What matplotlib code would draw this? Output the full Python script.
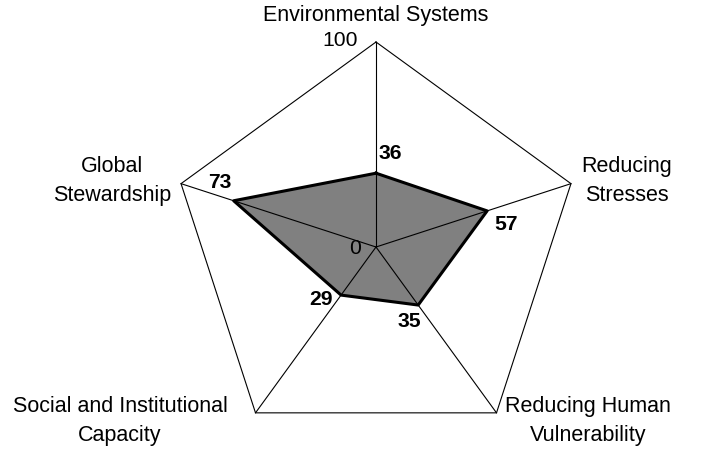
import numpy as np
import matplotlib
matplotlib.use('Agg')
import matplotlib.pyplot as plt

plt.rcParams['font.family'] = ['Liberation Sans', 'DejaVu Sans']

categories = ['Environmental Systems', 'Reducing\nStresses', 'Reducing Human\nVulnerability',
              'Social and Institutional\nCapacity', 'Global\nStewardship']
values = [36, 57, 35, 29, 73]
max_value = 100

# layout in pixel units (axes spans whole figure)
cx, cy, R = 376, 247, 205
n = len(categories)
angles = np.pi / 2 - 2 * np.pi * np.arange(n) / n

def to_xy(r, a):
    return cx + r * np.cos(a), cy - r * np.sin(a)

fig = plt.figure(figsize=(7.08, 4.49), dpi=100)
ax = fig.add_axes([0, 0, 1, 1])
ax.set_xlim(0, 708)
ax.set_ylim(449, 0)
ax.axis('off')

# data polygon
vx, vy = to_xy(R * np.array(values) / max_value, angles)
ax.fill(vx, vy, color='#808080', zorder=1)
ax.plot(np.append(vx, vx[0]), np.append(vy, vy[0]), color='black', lw=2.2, zorder=3)

# grid: outer pentagon + spokes
ox, oy = to_xy(R, angles)
ax.plot(np.append(ox, ox[0]), np.append(oy, oy[0]), color='black', lw=0.8, zorder=2)
for x, y in zip(ox, oy):
    ax.plot([cx, x], [cy, y], color='black', lw=0.8, zorder=2)

fs = 15.2

# axis scale labels
ax.text(ox[0] - 18, oy[0] - 1, str(max_value), ha='right', va='center', fontsize=fs)
ax.text(cx - 15, cy + 1, '0', ha='right', va='center', fontsize=fs)

# category labels
cat_pos = [(376, 16), (627, 181), (588, 421), (120, 421), (112, 181)]
for name, (x, y) in zip(categories, cat_pos):
    ax.text(x, y, name, ha='center', va='center', fontsize=15.5, linespacing=1.5)

# value labels
val_off = [(14, -20), (19, 14), (-9, 16), (-20, 4), (-14, -18)]
for v, x, y, (dx, dy) in zip(values, vx, vy, val_off):
    ax.text(x + dx, y + dy, str(v), ha='center', va='center', fontsize=fs, fontweight='bold')

fig.savefig('out.png', dpi=100)
